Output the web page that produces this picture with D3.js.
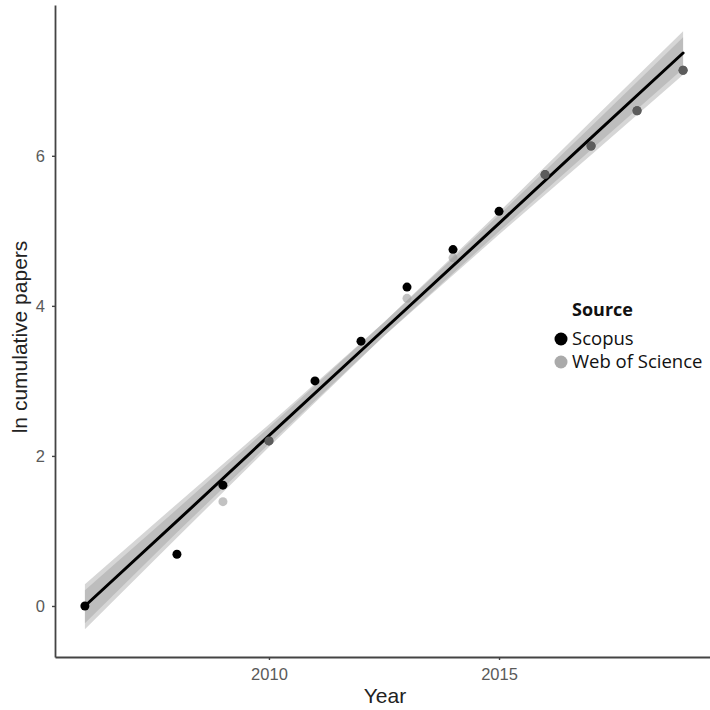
<!DOCTYPE html>
<html>
<head>
<meta charset="utf-8">
<script src="https://cdn.jsdelivr.net/npm/d3@7"></script>
<style>
  html, body { margin: 0; padding: 0; background: #fff; }
  svg { display: block; }
</style>
</head>
<body>
<div id="chart"></div>
<script>
// Datos
const scopusYears = [2006, 2008, 2009, 2010, 2011, 2012, 2013, 2014, 2015, 2016, 2017, 2018, 2019];
const scopusValues = [0, 0.69, 1.61, 2.2, 3.0, 3.53, 4.25, 4.75, 5.26, 5.75, 6.13, 6.6, 7.14];
const wosYears = [2009, 2010, 2013, 2014, 2016, 2017, 2018, 2019];
const wosValues = [1.39, 2.2, 4.1, 4.64, 5.75, 6.13, 6.6, 7.14];

// Ajuste lineal y bandas de confianza (dos fuentes superpuestas)
const bandYears = [2006, 2008, 2010, 2012.5, 2015, 2017, 2019];
const fitValues = [0.0, 1.13, 2.27, 3.685, 5.10, 6.24, 7.37];
const lowA = [-0.31, 0.91, 2.12, 3.60, 4.99, 6.08, 7.16];
const highA = [0.21, 1.29, 2.38, 3.78, 5.25, 6.46, 7.66];
const lowB = [-0.23, 0.98, 2.16, 3.60, 4.95, 6.01, 7.08];
const highB = [0.29, 1.36, 2.42, 3.78, 5.21, 6.39, 7.58];

const xTicks = [2010, 2015];
const yTicks = [0, 2, 4, 6];
const sources = ['Scopus', 'Web of Science'];
const colores = { 'Scopus': '#000000', 'Web of Science': '#999999' };

const width = 710, height = 710;
const margin = { left: 55, right: -3, top: 5, bottom: 53 };

const svg = d3.select('#chart').append('svg')
  .attr('width', width)
  .attr('height', height);

const x = d3.scaleLinear().domain([2005.35, 2019.65]).range([margin.left, width - margin.right]);
const y = d3.scaleLinear().domain([-0.68, 8.01]).range([height - margin.bottom, margin.top]);

// Bandas de confianza
const bandas = [
  { low: lowA, high: highA },
  { low: lowB, high: highB }
];
const area = d3.area()
  .x(d => x(d.year))
  .y0(d => y(d.low))
  .y1(d => y(d.high));
const linea = d3.line()
  .x(d => x(d.year))
  .y(d => y(d.v));

bandas.forEach(b => {
  const filas = bandYears.map((yr, i) => ({ year: yr, low: b.low[i], high: b.high[i] }));
  svg.append('path')
    .attr('d', area(filas))
    .attr('fill', '#999999')
    .attr('fill-opacity', 0.4);
});

svg.append('path')
  .attr('d', linea(bandYears.map((yr, i) => ({ year: yr, v: fitValues[i] }))))
  .attr('fill', 'none')
  .attr('stroke', '#000')
  .attr('stroke-width', 3)
  .attr('stroke-linecap', 'round');

// Puntos
const puntosScopus = scopusYears.map((yr, i) => ({ year: yr, v: scopusValues[i] }));
const puntosWos = wosYears.map((yr, i) => ({ year: yr, v: wosValues[i] }));

svg.append('g').selectAll('circle').data(puntosScopus).enter().append('circle')
  .attr('cx', d => x(d.year))
  .attr('cy', d => y(d.v))
  .attr('r', 4.5)
  .attr('fill', colores['Scopus']);

svg.append('g').selectAll('circle').data(puntosWos).enter().append('circle')
  .attr('cx', d => x(d.year))
  .attr('cy', d => y(d.v))
  .attr('r', 4.5)
  .attr('fill', colores['Web of Science'])
  .attr('fill-opacity', 0.6);

// Ejes
const ejeX = svg.append('g')
  .attr('transform', `translate(0,${height - margin.bottom})`)
  .call(d3.axisBottom(x).tickValues(xTicks).tickFormat(d3.format('d')).tickSize(3).tickSizeOuter(0));
const ejeY = svg.append('g')
  .attr('transform', `translate(${margin.left},0)`)
  .call(d3.axisLeft(y).tickValues(yTicks).tickSize(3).tickSizeOuter(0));

[ejeX, ejeY].forEach(eje => {
  eje.select('.domain').attr('stroke', '#444').attr('stroke-width', 1.8);
  eje.selectAll('.tick line').attr('stroke', '#444').attr('stroke-width', 1.4);
  eje.selectAll('.tick text')
    .attr('fill', '#5a5a5a')
    .attr('font-family', 'Liberation Sans, Arial, sans-serif')
    .attr('font-size', 16.5);
});
ejeX.selectAll('.tick text').attr('y', 23).attr('dy', 0);
ejeY.selectAll('.tick text').attr('x', -10).attr('dy', '0.36em');

// Títulos de ejes
svg.append('text')
  .text('Year')
  .attr('x', 385)
  .attr('y', 703)
  .attr('text-anchor', 'middle')
  .attr('font-family', 'Liberation Sans, Arial, sans-serif')
  .attr('font-size', 21)
  .attr('fill', '#222');

svg.append('text')
  .text('ln cumulative papers')
  .attr('transform', `translate(27,337) rotate(-90)`)
  .attr('text-anchor', 'middle')
  .attr('font-family', 'Liberation Sans, Arial, sans-serif')
  .attr('font-size', 21)
  .attr('fill', '#222');

// Leyenda
const leyenda = svg.append('g').attr('transform', 'translate(555,316)');
leyenda.append('text')
  .text('Source')
  .attr('x', 17)
  .attr('y', 0)
  .attr('font-family', 'Open Sans, sans-serif')
  .attr('font-weight', 'bold')
  .attr('font-size', 18)
  .attr('fill', '#111');
sources.forEach((s, i) => {
  const fila = leyenda.append('g').attr('transform', `translate(0,${23 + i * 23})`);
  fila.append('circle')
    .attr('cx', 6)
    .attr('cy', 0)
    .attr('r', 6.5)
    .attr('fill', s === 'Scopus' ? '#000' : '#aaaaaa');
  fila.append('text')
    .text(s)
    .attr('x', 17)
    .attr('y', 6)
    .attr('font-family', 'Open Sans, sans-serif')
    .attr('font-size', 18.5)
    .attr('fill', '#111');
});
</script>
</body>
</html>
